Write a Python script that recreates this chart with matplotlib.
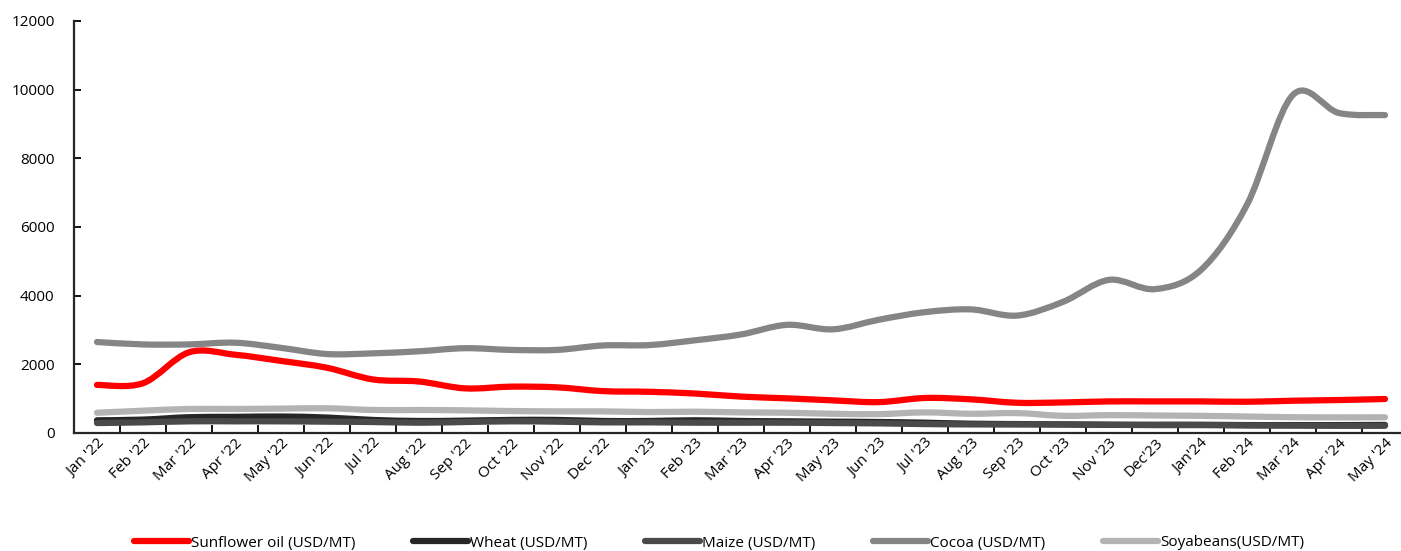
import numpy as np
import matplotlib.pyplot as plt
from matplotlib.path import Path
from matplotlib.patches import PathPatch
from matplotlib.lines import Line2D

plt.rcParams['font.family'] = ['Open Sans', 'DejaVu Sans']

# Monthly prices, USD per metric tonne
months = ["Jan '22", "Feb '22", "Mar '22", "Apr '22", "May '22", "Jun '22", "Jul '22",
          "Aug '22", "Sep '22", "Oct '22", "Nov '22", "Dec '22", "Jan '23", "Feb '23",
          "Mar '23", "Apr '23", "May '23", "Jun '23", "Jul '23", "Aug '23", "Sep '23",
          "Oct '23", "Nov '23", "Dec'23", "Jan'24", "Feb '24", "Mar '24", "Apr '24", "May '24"]

sunflower = [1400, 1450, 2350, 2280, 2100, 1900, 1560, 1500, 1300, 1350, 1330, 1220, 1200, 1150,
             1060, 1010, 950, 900, 1020, 980, 880, 890, 920, 920, 920, 910, 940, 960, 990]
wheat = [370, 390, 460, 470, 480, 450, 380, 350, 360, 380, 380, 350, 350, 370,
         350, 340, 330, 320, 300, 270, 260, 250, 240, 240, 240, 230, 230, 230, 235]
maize = [290, 310, 340, 340, 340, 330, 320, 300, 320, 340, 330, 310, 310, 300,
         300, 300, 290, 280, 260, 250, 250, 250, 240, 230, 230, 220, 215, 210, 210]
cocoa = [2650, 2580, 2580, 2630, 2480, 2300, 2320, 2380, 2470, 2420, 2420, 2550, 2560, 2700,
         2870, 3150, 3020, 3300, 3520, 3600, 3420, 3820, 4460, 4190, 4750, 6650, 9850, 9320, 9260]
soyabeans = [590, 650, 700, 700, 710, 720, 670, 670, 660, 640, 630, 630, 610, 620,
             600, 590, 560, 550, 600, 560, 580, 500, 520, 510, 500, 480, 460, 455, 457]

series = [
    ("Sunflower oil (USD/MT)", sunflower, "#ff0000"),
    ("Wheat (USD/MT)", wheat, "#262626"),
    ("Maize (USD/MT)", maize, "#4a4a4a"),
    ("Cocoa (USD/MT)", cocoa, "#858585"),
    ("Soyabeans(USD/MT)", soyabeans, "#b3b3b3"),
]


def smooth_path(xs, ys, t=1 / 6):
    # Catmull-Rom style cubic Bezier through every point
    xs = np.asarray(xs, float)
    ys = np.asarray(ys, float)
    verts = [(xs[0], ys[0])]
    codes = [Path.MOVETO]
    n = len(xs)
    for i in range(n - 1):
        p0 = max(i - 1, 0)
        p3 = min(i + 2, n - 1)
        c1 = (xs[i] + (xs[i + 1] - xs[p0]) * t, ys[i] + (ys[i + 1] - ys[p0]) * t)
        c2 = (xs[i + 1] - (xs[p3] - xs[i]) * t, ys[i + 1] - (ys[p3] - ys[i]) * t)
        verts += [c1, c2, (xs[i + 1], ys[i + 1])]
        codes += [Path.CURVE4] * 3
    return Path(verts, codes)


fig = plt.figure(figsize=(14.01, 5.51), dpi=100)
ax = fig.add_axes([74 / 1401, 1 - 433 / 551, 1334 / 1401, 412 / 551])

x = np.arange(len(months))
handles = []
for k, (name, vals, col) in enumerate(series):
    patch = PathPatch(smooth_path(x, vals), facecolor='none', edgecolor=col,
                      lw=4.5, capstyle='round', joinstyle='round', zorder=2 + k)
    ax.add_patch(patch)
    handles.append(Line2D([], [], color=col, lw=4.5, solid_capstyle='round', label=name))

ax.set_xlim(-0.5, len(months) - 0.5)
ax.set_ylim(0, 12000)
ax.set_yticks(np.arange(0, 12001, 2000))
ax.tick_params(axis='y', direction='in', length=5, width=1.3, labelsize=11, pad=14)

# category boundaries carry the ticks, labels sit at the category centres
ax.set_xticks(np.arange(0.5, len(months) - 0.5), minor=False)
ax.set_xticklabels([])
ax.tick_params(axis='x', which='major', direction='in', length=6, width=1.3)
ax.set_xticks(x, minor=True)
ax.set_xticklabels(months, minor=True, rotation=45, ha='right', rotation_mode='anchor',
                   fontsize=11)
ax.tick_params(axis='x', which='minor', length=0, pad=2)

for s in ['top', 'right']:
    ax.spines[s].set_visible(False)
for s in ['left', 'bottom']:
    ax.spines[s].set_linewidth(1.6)
    ax.spines[s].set_color('#262626')

fig.legend(handles=handles, loc='center', bbox_to_anchor=(719 / 1401, 1 - 543 / 551), ncol=5,
           frameon=False, fontsize=11, handlelength=3.6, handletextpad=0.15,
           columnspacing=3.75)

fig.savefig('out.png', dpi=100)
